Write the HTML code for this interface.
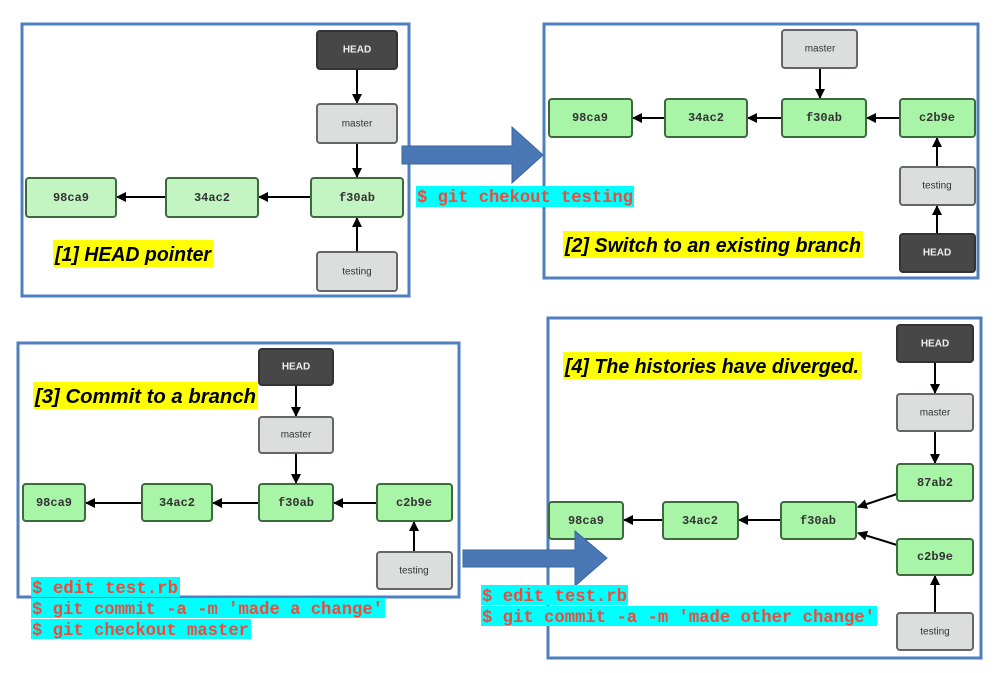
<!DOCTYPE html>
<html><head><style>
body{margin:0;background:#fff;width:997px;height:673px;overflow:hidden}
svg{display:block}
.n text{font-family:"Liberation Mono",monospace;font-weight:bold;font-size:12px;text-anchor:middle;dominant-baseline:central;fill:#333}
.r text{font-family:"Liberation Sans",sans-serif;font-size:10px;text-anchor:middle;dominant-baseline:central;fill:#333}
.h text{font-family:"Liberation Sans",sans-serif;font-size:10px;font-weight:bold;text-anchor:middle;dominant-baseline:central;fill:#eee}
.lab{font-family:"Liberation Sans",sans-serif;font-style:italic;font-weight:bold;font-size:20px;fill:#000}
.cmd{font-family:"Liberation Mono",monospace;font-weight:bold;font-size:17.4px;fill:#f04a3a}
</style></head><body>
<svg width="997" height="673" xmlns="http://www.w3.org/2000/svg">
<defs><marker id="a" markerWidth="10" markerHeight="10" refX="9" refY="5" orient="auto" markerUnits="userSpaceOnUse"><path d="M0,0 L10,5 L0,10 z" fill="#000"/></marker></defs>
<g fill="none" stroke="#4f7fbf" stroke-width="3">
<rect x="22" y="24" width="387" height="272"/>
<rect x="544" y="24" width="434" height="254"/>
<rect x="18" y="343" width="441" height="254"/>
<rect x="548" y="318" width="433" height="340"/>
</g>
<path d="M402,146 L512,146 L512,127 L543,155 L512,183 L512,164 L402,164 Z" fill="#4a78b5" stroke="#3a65a0"/>
<g stroke="#000" stroke-width="2" fill="none" marker-end="url(#a)">
<line x1="357" y1="69" x2="357" y2="103"/><line x1="357" y1="143" x2="357" y2="177"/>
<line x1="311" y1="197" x2="259" y2="197"/><line x1="166" y1="197" x2="117" y2="197"/>
<line x1="357" y1="252" x2="357" y2="218"/>
<line x1="820" y1="68" x2="820" y2="98"/><line x1="900" y1="118" x2="867" y2="118"/>
<line x1="782" y1="118" x2="748" y2="118"/><line x1="665" y1="118" x2="633" y2="118"/>
<line x1="937" y1="167" x2="937" y2="138"/><line x1="937" y1="234" x2="937" y2="206"/>
<line x1="296" y1="385" x2="296" y2="416"/><line x1="296" y1="453" x2="296" y2="483"/>
<line x1="377" y1="503" x2="334" y2="503"/><line x1="259" y1="503" x2="213" y2="503"/>
<line x1="142" y1="503" x2="86" y2="503"/><line x1="414" y1="552" x2="414" y2="522"/>
<line x1="935" y1="362" x2="935" y2="393"/><line x1="935" y1="431" x2="935" y2="463"/>
<line x1="897" y1="494" x2="858" y2="507"/><line x1="897" y1="545" x2="858" y2="533"/>
<line x1="781" y1="520" x2="739" y2="520"/><line x1="663" y1="520" x2="624" y2="520"/>
<line x1="935" y1="613" x2="935" y2="576"/>
</g>
<g class="h">
<g><rect x="317" y="31" width="80" height="38" rx="3" fill="#474747" stroke="#333" stroke-width="2"/><text x="357" y="50">HEAD</text></g>
<g><rect x="900" y="234" width="75" height="38" rx="3" fill="#474747" stroke="#333" stroke-width="2"/><text x="937" y="253">HEAD</text></g>
<g><rect x="259" y="349" width="74" height="36" rx="3" fill="#474747" stroke="#333" stroke-width="2"/><text x="296" y="367">HEAD</text></g>
<g><rect x="897" y="325" width="76" height="37" rx="3" fill="#474747" stroke="#333" stroke-width="2"/><text x="935" y="344">HEAD</text></g>
</g>
<g class="r">
<g><rect x="317" y="104" width="80" height="39" rx="3" fill="#dcdedd" stroke="#666" stroke-width="2"/><text x="357" y="124">master</text></g>
<g><rect x="317" y="252" width="80" height="39" rx="3" fill="#dcdedd" stroke="#666" stroke-width="2"/><text x="357" y="272">testing</text></g>
<g><rect x="782" y="30" width="75" height="38" rx="3" fill="#dcdedd" stroke="#666" stroke-width="2"/><text x="820" y="49">master</text></g>
<g><rect x="900" y="167" width="75" height="38" rx="3" fill="#dcdedd" stroke="#666" stroke-width="2"/><text x="937" y="186">testing</text></g>
<g><rect x="259" y="417" width="74" height="36" rx="3" fill="#dcdedd" stroke="#666" stroke-width="2"/><text x="296" y="435">master</text></g>
<g><rect x="377" y="552" width="75" height="37" rx="3" fill="#dcdedd" stroke="#666" stroke-width="2"/><text x="414" y="571">testing</text></g>
<g><rect x="897" y="394" width="76" height="37" rx="3" fill="#dcdedd" stroke="#666" stroke-width="2"/><text x="935" y="413">master</text></g>
<g><rect x="897" y="613" width="76" height="37" rx="3" fill="#dcdedd" stroke="#666" stroke-width="2"/><text x="935" y="632">testing</text></g>
</g>
<g class="n">
<g><rect x="26" y="178" width="90" height="39" rx="3" fill="#c3f5c3" stroke="#3d6a3d" stroke-width="2"/><text x="71" y="198">98ca9</text></g>
<g><rect x="166" y="178" width="92" height="39" rx="3" fill="#c3f5c3" stroke="#3d6a3d" stroke-width="2"/><text x="212" y="198">34ac2</text></g>
<g><rect x="311" y="178" width="92" height="39" rx="3" fill="#c3f5c3" stroke="#3d6a3d" stroke-width="2"/><text x="357" y="198">f30ab</text></g>
<g><rect x="549" y="99" width="83" height="38" rx="3" fill="#a8f5a8" stroke="#3d6a3d" stroke-width="2"/><text x="590" y="118">98ca9</text></g>
<g><rect x="665" y="99" width="82" height="38" rx="3" fill="#a8f5a8" stroke="#3d6a3d" stroke-width="2"/><text x="706" y="118">34ac2</text></g>
<g><rect x="782" y="99" width="84" height="38" rx="3" fill="#a8f5a8" stroke="#3d6a3d" stroke-width="2"/><text x="824" y="118">f30ab</text></g>
<g><rect x="900" y="99" width="75" height="38" rx="3" fill="#a8f5a8" stroke="#3d6a3d" stroke-width="2"/><text x="937" y="118">c2b9e</text></g>
<g><rect x="23" y="484" width="62" height="37" rx="3" fill="#a8f5a8" stroke="#3d6a3d" stroke-width="2"/><text x="54" y="503">98ca9</text></g>
<g><rect x="142" y="484" width="70" height="37" rx="3" fill="#a8f5a8" stroke="#3d6a3d" stroke-width="2"/><text x="177" y="503">34ac2</text></g>
<g><rect x="259" y="484" width="74" height="37" rx="3" fill="#a8f5a8" stroke="#3d6a3d" stroke-width="2"/><text x="296" y="503">f30ab</text></g>
<g><rect x="377" y="484" width="75" height="37" rx="3" fill="#a8f5a8" stroke="#3d6a3d" stroke-width="2"/><text x="414" y="503">c2b9e</text></g>
<g><rect x="549" y="502" width="74" height="37" rx="3" fill="#a8f5a8" stroke="#3d6a3d" stroke-width="2"/><text x="586" y="521">98ca9</text></g>
<g><rect x="663" y="502" width="75" height="37" rx="3" fill="#a8f5a8" stroke="#3d6a3d" stroke-width="2"/><text x="700" y="521">34ac2</text></g>
<g><rect x="781" y="502" width="75" height="37" rx="3" fill="#a8f5a8" stroke="#3d6a3d" stroke-width="2"/><text x="818" y="521">f30ab</text></g>
<g><rect x="897" y="464" width="76" height="37" rx="3" fill="#a8f5a8" stroke="#3d6a3d" stroke-width="2"/><text x="935" y="483">87ab2</text></g>
<g><rect x="897" y="539" width="76" height="36" rx="3" fill="#a8f5a8" stroke="#3d6a3d" stroke-width="2"/><text x="935" y="557">c2b9e</text></g>
</g>
<path d="M463,550 L575,550 L575,531 L607,558 L575,586 L575,567 L463,567 Z" fill="#4a78b5" stroke="#3a65a0"/>
<rect x="53" y="240" width="160" height="27" fill="#ffff00"/><text class="lab" x="55" y="261" textLength="156" lengthAdjust="spacingAndGlyphs">[1] HEAD pointer</text>
<rect x="563" y="231" width="300" height="27" fill="#ffff00"/><text class="lab" x="565" y="252" textLength="296" lengthAdjust="spacingAndGlyphs">[2] Switch to an existing branch</text>
<rect x="33" y="382" width="225" height="27" fill="#ffff00"/><text class="lab" x="35" y="403" textLength="221" lengthAdjust="spacingAndGlyphs">[3] Commit to a branch</text>
<rect x="563" y="352" width="299" height="27" fill="#ffff00"/><text class="lab" x="565" y="373" textLength="294" lengthAdjust="spacingAndGlyphs">[4] The histories have diverged.</text>
<rect x="416" y="186" width="218" height="21" fill="#00ffff"/><text class="cmd" x="417" y="202" textLength="216" lengthAdjust="spacingAndGlyphs">$ git chekout testing</text>
<rect x="31" y="577" width="149" height="20" fill="#00ffff"/><text class="cmd" x="32" y="593" textLength="146" lengthAdjust="spacingAndGlyphs">$ edit test.rb</text>
<rect x="31" y="598" width="354" height="20" fill="#00ffff"/><text class="cmd" x="32" y="614" textLength="351" lengthAdjust="spacingAndGlyphs">$ git commit -a -m 'made a change'</text>
<rect x="31" y="619" width="220" height="20" fill="#00ffff"/><text class="cmd" x="32" y="635" textLength="217" lengthAdjust="spacingAndGlyphs">$ git checkout master</text>
<rect x="481" y="585" width="147" height="20" fill="#00ffff"/><text class="cmd" x="482" y="601" textLength="145" lengthAdjust="spacingAndGlyphs">$ edit test.rb</text>
<rect x="481" y="606" width="396" height="20" fill="#00ffff"/><text class="cmd" x="482" y="622" textLength="393" lengthAdjust="spacingAndGlyphs">$ git commit -a -m 'made other change'</text>
</svg>
</body></html>
